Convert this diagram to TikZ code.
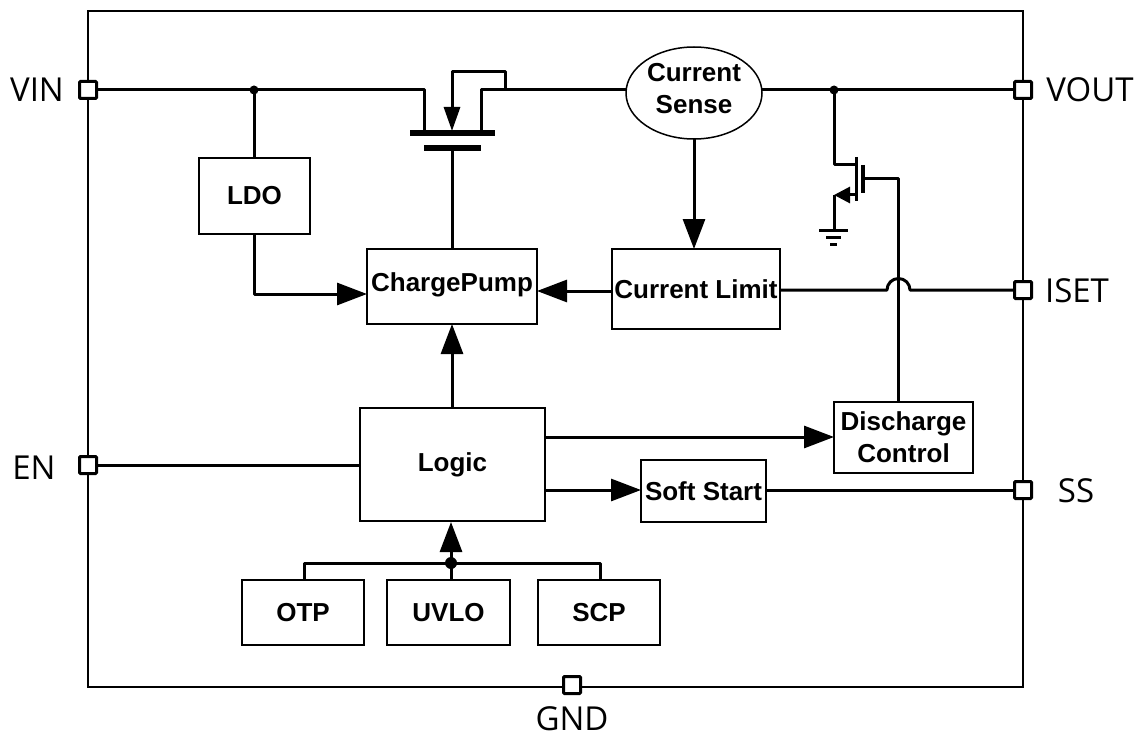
\documentclass[tikz,border=0pt]{standalone}
\usepackage{fontspec}
\setmainfont{Liberation Sans}
\newfontfamily\pinfont{Open Sans}
\usetikzlibrary{arrows.meta,shapes.geometric}
\tikzset{
  blockbox/.style={draw,line width=1.5pt,inner sep=0pt,font=\bfseries\fontsize{26}{32}\selectfont,align=center},
  pinbox/.style={draw,fill=white,line width=3pt,minimum size=17pt,inner sep=0pt,rounded corners=1pt},
  pinlabel/.style={font=\pinfont\fontsize{33}{38}\selectfont,inner sep=0pt},
  wire/.style={line width=3pt,line join=round},
  bar/.style={line width=6pt},
  dotnode/.style={circle,fill=black,inner sep=0pt},
  bigarrow/.style={wire,-{Triangle[length=30pt,width=22pt]}},
  midarrow/.style={wire,-{Triangle[length=24pt,width=16pt]}},
  smallarrow/.style={wire,-{Triangle[length=16pt,width=16pt]}}
}
\begin{document}
\begin{tikzpicture}[x=1pt,y=-1pt]
\useasboundingbox (0,0) rectangle (1140,738);
\node[draw,line width=2pt,minimum width=935pt,minimum height=676pt,inner sep=0pt] (chip) at (555.5,349) {};
% blocks
\node[blockbox,minimum width=111pt,minimum height=76pt] (ldo) at (254.5,196) {LDO};
\node[blockbox,minimum width=170pt,minimum height=75pt,text depth=6pt,text height=19pt] (cp) at (452,286.5) {\raisebox{2pt}{ChargePump}};
\node[blockbox,minimum width=168pt,minimum height=80pt] (cl) at (696,289) {Current Limit};
\node[blockbox,minimum width=185pt,minimum height=113pt] (logic) at (452.5,464.5) {Logic};
\node[blockbox,minimum width=139pt,minimum height=71pt] (dc) at (903.5,437.5) {Discharge\\Control};
\node[blockbox,minimum width=125pt,minimum height=62pt] (ss) at (703.5,491) {Soft Start};
\node[blockbox,minimum width=122pt,minimum height=65pt] (otp) at (303,612.5) {OTP};
\node[blockbox,minimum width=123pt,minimum height=65pt] (uvlo) at (448.5,612.5) {UVLO};
\node[blockbox,minimum width=122pt,minimum height=65pt] (scp) at (599,612.5) {SCP};
\node[draw,line width=1.5pt,ellipse,minimum width=136pt,minimum height=92pt,inner sep=0pt] (cs) at (694,93) {};
\node[blockbox,draw=none] (cstext) at (694,89) {Current\\Sense};
% pins
\node[pinbox] (vin) at (88,90) {};
\node[pinbox] (vout) at (1023,90) {};
\node[pinbox] (iset) at (1023,290) {};
\node[pinbox] (en) at (88,465) {};
\node[pinbox] (sspin) at (1023,490) {};
\node[pinbox] (gnd) at (572,685) {};
\node[pinlabel] (vinl) at (37,90) {VIN};
\node[pinlabel] (voutl) at (1090,90) {VOUT};
\node[pinlabel] (isetl) at (1077,291) {ISET};
\node[pinlabel] (enl) at (34,468) {EN};
\node[pinlabel] (ssl) at (1076,491) {SS};
\node[pinlabel] (gndl) at (572,719) {GND};
% junctions and helper points
\node[dotnode,minimum size=9pt] (j1) at (254,90) {};
\node[dotnode,minimum size=9pt] (j2) at (834,90) {};
\node[dotnode,minimum size=12pt] (j3) at (451,563) {};
\coordinate (csw) at (627,90);
\coordinate (cse) at (761,90);
\coordinate (d1) at (424,90);
\coordinate (d2) at (424,132);
\coordinate (s1) at (481,90);
\coordinate (s2) at (481,132);
\coordinate (lp1) at (505,90);
\coordinate (lp2) at (505,72);
\coordinate (lp3) at (452,72);
\coordinate (lp4) at (452,131);
\coordinate (b1l) at (410,133);
\coordinate (b1r) at (495,133);
\coordinate (b2l) at (424,148);
\coordinate (b2r) at (481,148);
\coordinate (g1) at (452,148);
\coordinate (g2) at (452,249);
\coordinate (ldoa) at (254,294);
\coordinate (cpa) at (367,294);
\coordinate (csb) at (694,139);
\coordinate (clt) at (694,249);
\coordinate (cll) at (612,291);
\coordinate (cpr) at (537,291);
\coordinate (lgt) at (452,408);
\coordinate (cpb) at (452,324);
\coordinate (lgr1) at (545,437);
\coordinate (lgr2) at (545,490);
\coordinate (ssl1) at (641,490);
\coordinate (ssr) at (766,490);
\coordinate (dcl) at (834,437);
\coordinate (lgl) at (360,465);
\coordinate (clr) at (780,290);
\coordinate (h1) at (887,290);
\coordinate (dct) at (898,402);
\coordinate (gt) at (898,179);
\coordinate (gg) at (864,179);
\coordinate (q1) at (834,165);
\coordinate (q2) at (856,165);
\coordinate (q3) at (856,157);
\coordinate (q4) at (856,201);
\coordinate (q5) at (863,165);
\coordinate (q6) at (863,193);
\coordinate (q7) at (834,195);
\coordinate (q8) at (856,195);
\coordinate (q9) at (834,230);
\coordinate (e1l) at (819,230);
\coordinate (e1r) at (848,230);
\coordinate (e2l) at (826,237);
\coordinate (e2r) at (841,237);
\coordinate (e3l) at (830,244);
\coordinate (e3r) at (837,244);
\coordinate (lg3) at (451,522);
\coordinate (bt) at (304,563);
\coordinate (bu) at (600,563);
\coordinate (otpt) at (304,580);
\coordinate (uvt) at (451,580);
\coordinate (scpt) at (600,580);
% top rail and MOSFET
\draw[wire] (vin.east) -- (j1.center) -- (d1) -- (d2);
\draw[wire] (s2) -- (s1) -- (lp1) -- (csw);
\draw[wire] (lp1) -- (lp2) -- (lp3) -- (452,100);
\draw[midarrow] (lp3) -- (lp4);
\draw[bar] (b1l) -- (b1r);
\draw[bar] (b2l) -- (b2r);
\draw[wire] (g1) -- (g2);
\draw[wire] (cse) -- (j2.center) -- (vout.west);
% LDO
\draw[wire] (j1.center) -- (ldo.north -| j1);
\draw[bigarrow] (ldo.south -| ldoa) -- (ldoa) -- (cpa);
% signal arrows
\draw[bigarrow] (csb) -- (clt);
\draw[bigarrow] (cll) -- (cpr);
\draw[bigarrow] (lgt) -- (cpb);
\draw[bigarrow] (lgr1) -- (dcl);
\draw[bigarrow] (lgr2) -- (ssl1);
\draw[wire] (ssr) -- (sspin.west);
\draw[wire] (en.east) -- (lgl);
% ISET with hop
\draw[wire] (clr) -- (h1) arc[start angle=180,end angle=0,radius=11.5pt] -- (iset.west);
% discharge gate
\draw[wire] (dct) -- (gt) -- (gg);
\draw[wire] (j2.center) -- (q1) -- (q2);
\draw[wire] (q3) -- (q4);
\draw[line width=4pt] (q5) -- (q6);
\draw[smallarrow] (q8) -- (q7);
\draw[wire] (q7) -- (q9);
\draw[wire] (e1l) -- (e1r);
\draw[wire] (e2l) -- (e2r);
\draw[wire] (e3l) -- (e3r);
% protection bus
\draw[bigarrow] (j3.center) -- (lg3);
\draw[wire] (otpt) -- (bt) -- (bu) -- (scpt);
\draw[wire] (j3.center) -- (uvt);
\end{tikzpicture}
\end{document}
